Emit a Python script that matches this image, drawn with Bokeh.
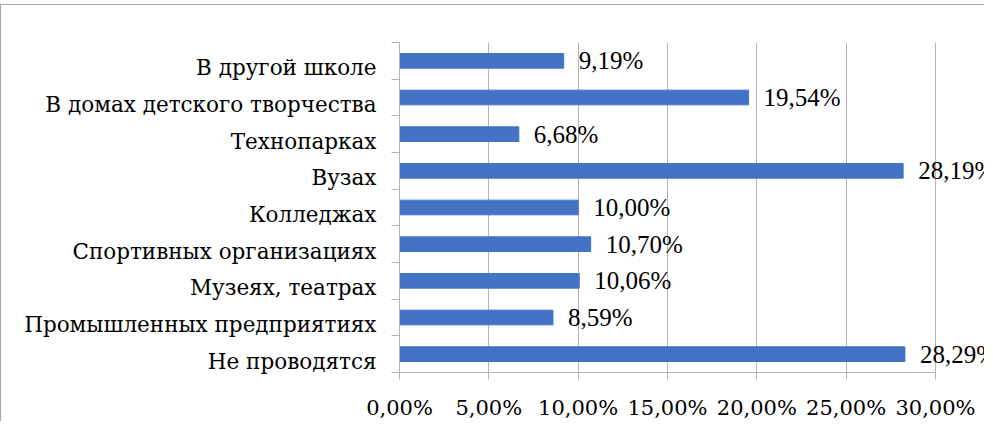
from bokeh.plotting import figure
from bokeh.models import Range1d, FixedTicker, LabelSet, ColumnDataSource
from bokeh.embed import file_html
from bokeh.resources import INLINE

# Data (top to bottom as in the reference)
categories = [
    "В другой школе",
    "В домах детского творчества",
    "Технопарках",
    "Вузах",
    "Колледжах",
    "Спортивных организациях",
    "Музеях, театрах",
    "Промышленных предприятиях",
    "Не проводятся",
]
values = [9.19, 19.54, 6.68, 28.19, 10.00, 10.70, 10.06, 8.59, 28.29]
x_ticks = [0, 5, 10, 15, 20, 25, 30]
x_tick_labels = ["0,00%", "5,00%", "10,00%", "15,00%", "20,00%", "25,00%", "30,00%"]

n = len(categories)
ypos = [n - i - 0.5 for i in range(n)]
label_pos = [y - 0.19 for y in ypos]   # category labels sit slightly below bar centres
labels = [f"{v:.2f}".replace(".", ",") + "%" for v in values]

src = ColumnDataSource(dict(y=ypos, v=values, lab=labels, cat=categories))

FONT = "DejaVu Serif"
GRAY = "#b4b4b4"

p = figure(width=984, height=417, output_backend="svg", toolbar_location=None,
           x_range=Range1d(0, 32.8), y_range=Range1d(0, n),
           min_border_left=398, min_border_right=0, min_border_top=37, min_border_bottom=48)
p.margin = (4, 0, 0, 0)
p.styles = {"border-top": "1px solid #a6a6a6", "border-left": "1px solid #a6a6a6"}
p.outline_line_color = None
p.background_fill_color = "white"
p.border_fill_color = "white"

p.hbar(y="y", right="v", left=0, height=0.4, source=src, color="#4472c4")

# x axis
p.xaxis.ticker = FixedTicker(ticks=x_ticks, minor_ticks=[])
p.xaxis.bounds = (0, 30)
p.xaxis.major_label_overrides = {t: l for t, l in zip(x_ticks, x_tick_labels)}
p.xaxis.axis_line_color = GRAY
p.xaxis.major_tick_line_color = GRAY
p.xaxis.major_tick_in = 0
p.xaxis.major_tick_out = 7
p.xaxis.minor_tick_line_color = None
p.xaxis.major_label_text_font = FONT
p.xaxis.major_label_text_font_size = "21px"
p.xaxis.major_label_text_color = "black"
p.xaxis.major_label_standoff = 16

# y axis: labels at category centres, ticks at boundaries
p.yaxis.ticker = FixedTicker(ticks=label_pos, minor_ticks=list(range(n + 1)))
p.yaxis.major_label_overrides = {y: c for y, c in zip(label_pos, categories)}
p.yaxis.axis_line_color = GRAY
p.yaxis.major_tick_line_color = None
p.yaxis.major_tick_in = 0
p.yaxis.major_tick_out = 0
p.yaxis.minor_tick_line_color = GRAY
p.yaxis.minor_tick_in = 0
p.yaxis.minor_tick_out = 8
p.yaxis.major_label_text_font = FONT
p.yaxis.major_label_text_font_size = "21.5px"
p.yaxis.major_label_text_color = "black"
p.yaxis.major_label_standoff = 15

p.xgrid.grid_line_color = GRAY
p.xgrid.ticker = FixedTicker(ticks=x_ticks)
p.ygrid.grid_line_color = None

ls = LabelSet(x="v", y="y", text="lab", source=src, x_offset=15,
              text_baseline="middle", text_align="left",
              text_font=FONT, text_font_size="25px", text_color="black")
p.add_layout(ls)

open("out.html", "w").write(file_html(p, INLINE))
